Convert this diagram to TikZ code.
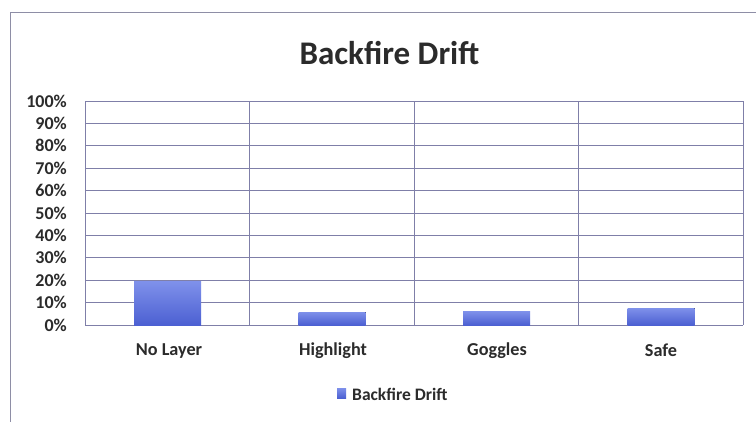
\documentclass[tikz,border=0pt]{standalone}
\usepackage{fontspec}
\setmainfont{Carlito}
\definecolor{gridc}{HTML}{7F7FA8}
\definecolor{frame}{HTML}{8E8EA6}
\definecolor{txt}{HTML}{2B2B2B}
\definecolor{bartop}{HTML}{7E90EA}
\definecolor{barbot}{HTML}{4C60D2}
\begin{document}
\begin{tikzpicture}[x=1pt,y=-1pt,
  grid/.style={draw=gridc,line width=0.9pt},
  ylab/.style={anchor=east,font=\fontsize{18}{18}\selectfont\bfseries,text=txt,inner sep=0pt},
  xlab/.style={anchor=center,font=\fontsize{18.2}{18}\selectfont\bfseries,text=txt,inner sep=0pt},
  bar/.style={top color=bartop,bottom color=barbot,draw=none}]
\useasboundingbox (0,0) rectangle (756,421);
\fill[white] (0,0) rectangle (756,421);
% outer frame
\draw[frame,line width=0.9pt] (10,430) -- (10,12) -- (770,12);
% title
\node[font=\fontsize{33}{33}\selectfont\bfseries,text=txt] (title) at (389.5,53) {Backfire Drift};
% grid
\foreach \i in {0,...,10} {
  \draw[grid] (85,{325-22.4*\i}) -- (743,{325-22.4*\i});
  \pgfmathtruncatemacro{\p}{10*\i}
  \node[ylab] (y\i) at (67,{325-22.4*\i}) {\p\%};
}
\foreach \x in {85,249.5,414,578.5,743} \draw[grid] (\x,101) -- (\x,325);
% bars
\foreach \c/\v in {167/19.2,331.5/5.8,496/6.0,660.5/7.5} {
  \fill[bar] ({\c-33},325) rectangle ({\c+34},{325-2.24*\v});
}
% category labels
\node[xlab] (c1) at (169,351) {No Layer};
\node[xlab] (c2) at (333,351) {Highlight};
\node[xlab] (c3) at (497,351) {Goggles};
\node[xlab] (c4) at (661,350) {Safe};
% legend
\fill[bar] (337,388) rectangle (346,398);
\node[anchor=west,font=\fontsize{17.5}{18}\selectfont\bfseries,text=txt,inner sep=0pt] (leg) at (352,394) {Backfire Drift};
\end{tikzpicture}
\end{document}
